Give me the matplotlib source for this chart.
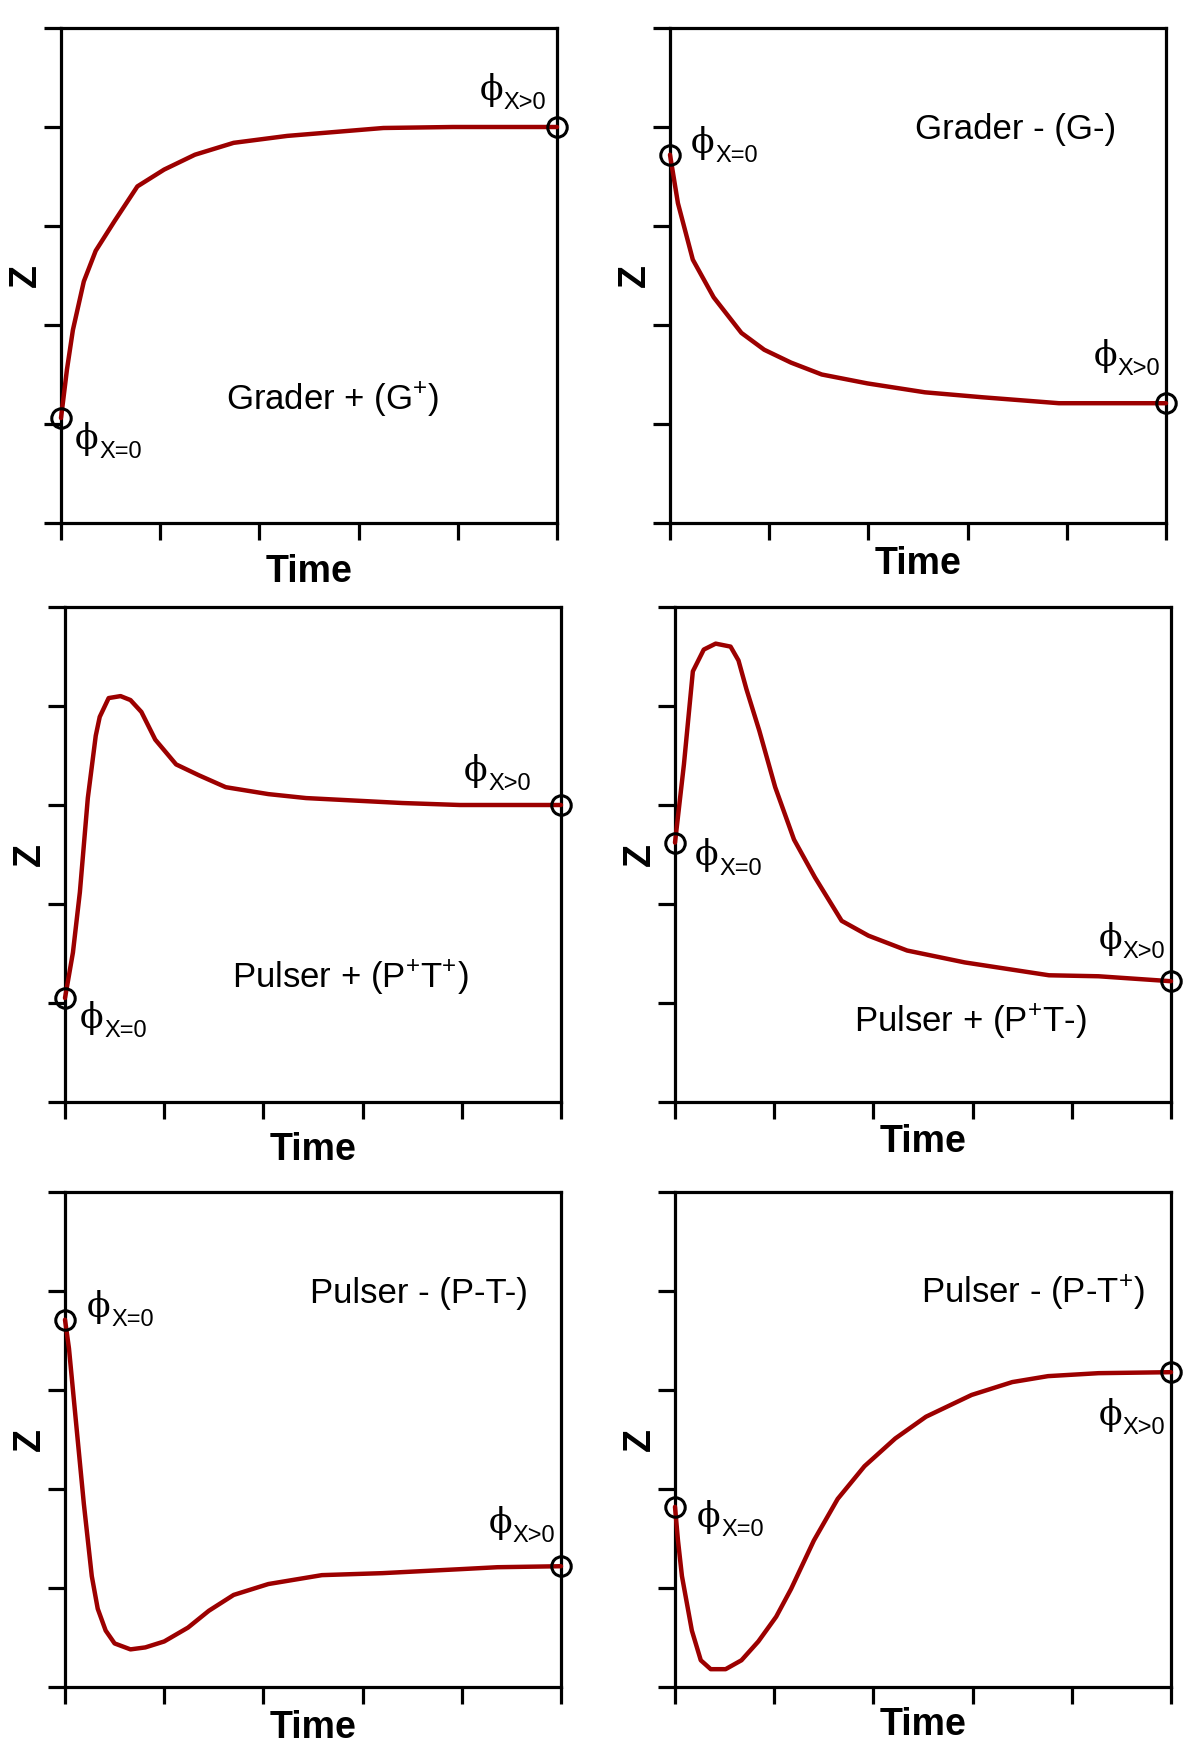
"""
Six schematic response types (graders and pulsers): Z against time,
with the start and end states marked.
"""
import matplotlib
matplotlib.use("Agg")
import matplotlib.pyplot as plt

plt.rcParams["font.family"] = ["Liberation Sans", "DejaVu Sans"]
plt.rcParams["mathtext.fontset"] = "custom"
plt.rcParams["mathtext.rm"] = "Liberation Sans"
plt.rcParams["mathtext.it"] = "Liberation Sans:italic"
plt.rcParams["mathtext.bf"] = "Liberation Sans:bold"

LINE_RED = "#9C0000"

# ── curves, in tick units (0..5 on both axes) ───────────────────────────────

G_POS_T = [0.00, 0.06, 0.12, 0.23, 0.35, 0.54, 0.77, 1.04, 1.35, 1.74, 2.28, 3.25, 3.95, 5.00]
G_POS_Z = [1.06, 1.55, 1.95, 2.44, 2.75, 3.05, 3.40, 3.57, 3.72, 3.84, 3.91, 3.99, 4.00, 4.00]

G_NEG_T = [0.00, 0.08, 0.23, 0.44, 0.72, 0.95, 1.22, 1.53, 1.99, 2.57, 3.15, 3.92, 5.00]
G_NEG_Z = [3.72, 3.23, 2.66, 2.28, 1.92, 1.75, 1.62, 1.50, 1.41, 1.32, 1.27, 1.21, 1.21]

PP_TP_T = [0.00, 0.08, 0.15, 0.23, 0.31, 0.35, 0.44, 0.56, 0.66, 0.77, 0.91, 1.12,
           1.35, 1.62, 2.05, 2.43, 3.40, 3.98, 5.00]
PP_TP_Z = [1.05, 1.51, 2.12, 3.07, 3.70, 3.89, 4.08, 4.10, 4.06, 3.94, 3.66, 3.41,
           3.30, 3.18, 3.11, 3.07, 3.02, 3.00, 3.00]

PP_TN_T = [0.00, 0.09, 0.18, 0.29, 0.41, 0.56, 0.64, 0.72, 0.85, 1.01, 1.20, 1.41,
           1.68, 1.95, 2.34, 2.92, 3.77, 4.27, 5.00]
PP_TN_Z = [2.62, 3.41, 4.35, 4.57, 4.63, 4.60, 4.46, 4.17, 3.75, 3.18, 2.65, 2.27,
           1.83, 1.68, 1.53, 1.41, 1.28, 1.27, 1.22]

PN_TN_T = [0.00, 0.04, 0.12, 0.19, 0.27, 0.33, 0.41, 0.50, 0.66, 0.81, 1.00, 1.24,
           1.45, 1.70, 2.05, 2.59, 3.20, 3.98, 4.36, 5.00]
PN_TN_Z = [3.71, 3.42, 2.58, 1.85, 1.12, 0.79, 0.57, 0.44, 0.38, 0.40, 0.46, 0.60,
           0.77, 0.93, 1.04, 1.13, 1.15, 1.19, 1.21, 1.22]

PN_TP_T = [0.00, 0.03, 0.07, 0.17, 0.26, 0.36, 0.51, 0.67, 0.84, 1.02, 1.17, 1.40,
           1.64, 1.91, 2.22, 2.53, 2.99, 3.40, 3.76, 4.27, 5.00]
PN_TP_Z = [1.82, 1.48, 1.12, 0.57, 0.27, 0.18, 0.18, 0.27, 0.46, 0.71, 0.99, 1.48,
           1.90, 2.23, 2.51, 2.73, 2.95, 3.08, 3.14, 3.17, 3.18]

TITLES = [
    "Grader + (G$^{+}$)",
    "Grader - (G-)",
    "Pulser + (P$^{+}$T$^{+}$)",
    "Pulser + (P$^{+}$T-)",
    "Pulser - (P-T-)",
    "Pulser - (P-T$^{+}$)",
]
PHI = "\u03d5"
SUB_START = "X=0"
SUB_END = "X>0"

FIG_W, FIG_H = 1200, 1747
AX_W, AX_H = 496, 495


def phi_label(ax, x, y, sub):
    phi = ax.text(x, y, PHI, fontsize=25, family="DejaVu Serif", ha="left", va="center")
    ax.annotate(sub, xy=(1.0, 0.0), xycoords=phi, xytext=(0.5, -1.5),
                textcoords="offset points", fontsize=17, ha="left", va="baseline")


def draw_panel(fig, left_top, t, z, title, title_xy, phi0_xy, phi1_xy, time_off):
    x0, y0 = left_top
    ax = fig.add_axes([x0 / FIG_W, 1 - (y0 + AX_H) / FIG_H, AX_W / FIG_W, AX_H / FIG_H])

    ax.plot(t, z, color=LINE_RED, lw=3.2, clip_on=False, zorder=3,
            solid_joinstyle="round", solid_capstyle="round")
    ax.plot([t[0], t[-1]], [z[0], z[-1]], ls="none", marker="o", ms=14,
            mfc="none", mec="black", mew=2.2, clip_on=False, zorder=4)

    ax.set_xlim(0, 5)
    ax.set_ylim(0, 5)
    ax.set_xticks(range(6))
    ax.set_yticks(range(6))
    ax.set_xticklabels([])
    ax.set_yticklabels([])
    ax.tick_params(direction="out", length=12.5, width=2.3, color="black")
    for s in ax.spines.values():
        s.set_linewidth(2.3)

    ax.set_xlabel("Time", fontsize=27, fontweight="bold")
    ax.xaxis.set_label_coords(0.5, -time_off / AX_H)
    ax.xaxis.label.set_va("center")
    ax.set_ylabel("Z", fontsize=27, fontweight="bold")
    ax.yaxis.set_label_coords(-35 / AX_W, 0.5)
    ax.yaxis.label.set_va("center")

    ax.text(title_xy[0], title_xy[1], title, fontsize=25, ha="center", va="baseline")
    phi_label(ax, phi0_xy[0], phi0_xy[1], SUB_START)
    phi_label(ax, phi1_xy[0], phi1_xy[1], SUB_END)
    return ax


fig = plt.figure(figsize=(FIG_W / 100, FIG_H / 100), dpi=100)

draw_panel(fig, (61, 28), G_POS_T, G_POS_Z, TITLES[0], (2.74, 1.14), (0.14, 0.85), (4.22, 4.37), 49)
draw_panel(fig, (670, 28), G_NEG_T, G_NEG_Z, TITLES[1], (3.48, 3.88), (0.21, 3.84), (4.27, 1.69), 41)
draw_panel(fig, (65, 607), PP_TP_T, PP_TP_Z, TITLES[2], (2.88, 1.15), (0.15, 0.85), (4.02, 3.34), 48)
draw_panel(fig, (675, 607), PP_TN_T, PP_TN_Z, TITLES[3], (2.98, 0.71), (0.20, 2.49), (4.27, 1.65), 40)
draw_panel(fig, (65, 1192), PN_TN_T, PN_TN_Z, TITLES[4], (3.57, 3.88), (0.22, 3.84), (4.27, 1.66), 41)
draw_panel(fig, (675, 1192), PN_TP_T, PN_TP_Z, TITLES[5], (3.61, 3.88), (0.22, 1.72), (4.27, 2.75), 38)

fig.savefig("out.png", dpi=100)
